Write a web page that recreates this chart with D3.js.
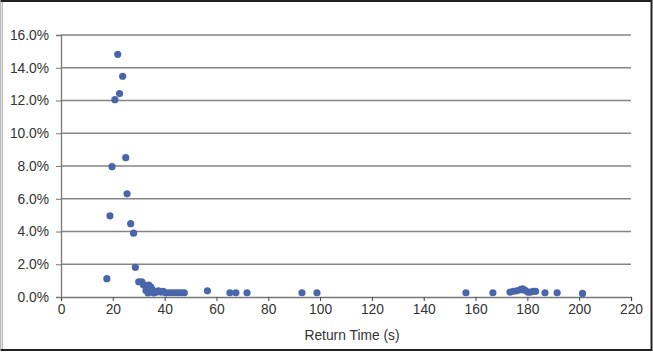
<!DOCTYPE html>
<html>
<head>
<meta charset="utf-8">
<script src="https://cdn.jsdelivr.net/npm/d3@7"></script>
<style>
  body { margin: 0; background: #fff; }
  svg { display: block; font-family: "Liberation Sans", Arial, sans-serif; }
</style>
</head>
<body>
<div id="container"></div>
<script>
/* DATA */
const returnTime = [17.7, 18.9, 19.7, 20.8, 21.9, 22.6, 23.8, 25.0, 25.5, 26.9, 28.0, 28.7,
  30.0, 31.2, 31.8, 32.6, 33.2, 33.9, 34.7, 32.8, 33.6, 35.2, 35.8, 36.8, 37.6, 38.6, 39.5,
  40.5, 41.8, 43.0, 44.2, 45.3, 46.5, 47.6, 56.5, 65.2, 67.5, 71.8, 93.0, 98.8,
  156.3, 166.7, 173.3, 174.6, 175.9, 177.3, 178.2, 179.1, 180.2, 181.2, 182.3, 183.2,
  186.8, 191.5, 201.3]
const share = [1.12, 4.96, 7.96, 12.05, 14.82, 12.42, 13.48, 8.51, 6.3, 4.48, 3.9, 1.81,
  0.93, 0.93, 0.75, 0.7, 0.55, 0.72, 0.6, 0.4, 0.25, 0.45, 0.25, 0.3, 0.38, 0.3, 0.35,
  0.25, 0.26, 0.26, 0.26, 0.26, 0.26, 0.26, 0.38, 0.26, 0.26, 0.26, 0.26, 0.26,
  0.26, 0.26, 0.3, 0.35, 0.38, 0.45, 0.5, 0.4, 0.3, 0.3, 0.35, 0.35,
  0.26, 0.26, 0.22]
const xTicks = [0, 20, 40, 60, 80, 100, 120, 140, 160, 180, 200, 220]
const yTicks = [0, 2, 4, 6, 8, 10, 12, 14, 16]
const xTitle = "Return Time (s)"

/* CONSTANTS */
const width = 653,
  height = 352,
  margin = {top: 35, bottom: 55, left: 61, right: 22},
  radius = 3.6,
  fontSize = 13.8

const svg = d3.select("#container")
  .append("svg")
  .attr("width", width)
  .attr("height", height)

// frame
svg.append("rect")
  .attr("x", 1.5).attr("y", 1).attr("width", width - 3).attr("height", height - 3)
  .attr("fill", "none").attr("stroke", "#222").attr("stroke-width", 2)
svg.append("line")
  .attr("x1", 1.5).attr("x2", 1.5).attr("y1", 2).attr("y2", height - 3)
  .attr("stroke", "#e4e4e4").attr("stroke-width", 2)

/* SCALES */
const xScale = d3.scaleLinear()
  .domain([0, 220])
  .range([margin.left, width - margin.right])

const yScale = d3.scaleLinear()
  .domain([0, 16])
  .range([height - margin.bottom, margin.top])

// gridlines
svg.append("g")
  .selectAll("line")
  .data(yTicks.filter(d => d > 0))
  .join("line")
  .attr("x1", margin.left).attr("x2", width - margin.right)
  .attr("y1", d => yScale(d)).attr("y2", d => yScale(d))
  .attr("stroke", "#858585").attr("stroke-width", 1.3)

const xAxis = d3.axisBottom(xScale).tickValues(xTicks).tickSize(4).tickPadding(3)
const yAxis = d3.axisLeft(yScale).tickValues(yTicks).tickSize(5).tickPadding(7)
  .tickFormat(d => d.toFixed(1) + "%")

svg.append("g")
  .attr("transform", `translate(0,${height - margin.bottom})`)
  .call(xAxis)
  .call(g => g.select(".domain").attr("stroke", "#777").attr("stroke-width", 1.3))
  .call(g => g.selectAll(".tick line").attr("stroke", "#444"))
  .call(g => g.selectAll("text").attr("font-size", fontSize).attr("fill", "#333"))

svg.append("g")
  .attr("transform", `translate(${margin.left},0)`)
  .call(yAxis)
  .call(g => g.select(".domain").attr("stroke", "#777").attr("stroke-width", 1.3))
  .call(g => g.selectAll(".tick line").attr("stroke", "#777"))
  .call(g => g.selectAll("text").attr("font-size", fontSize).attr("fill", "#333"))

svg.append("text")
  .attr("x", 352)
  .attr("y", 340)
  .attr("text-anchor", "middle")
  .attr("font-size", fontSize)
  .attr("fill", "#333")
  .text(xTitle)

// points
svg.append("g")
  .selectAll("circle")
  .data(returnTime.map((t, i) => ({t, s: share[i]})))
  .join("circle")
  .attr("r", radius)
  .attr("cx", d => xScale(d.t))
  .attr("cy", d => yScale(d.s))
  .attr("fill", "#4a66ab")
</script>
</body>
</html>
